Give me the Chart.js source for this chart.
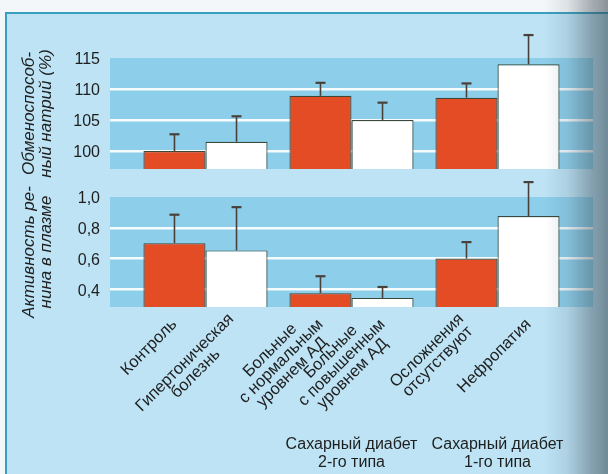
<!DOCTYPE html>
<html><head><meta charset="utf-8">
<script src="https://cdn.jsdelivr.net/npm/chart.js@4.4.0/dist/chart.umd.min.js"></script>
<style>
html,body{margin:0;padding:0;background:#f4f7f9;}
#wrap{position:relative;width:608px;height:474px;overflow:hidden;background:#f4f7f9;}
#panel{position:absolute;left:5px;top:12px;right:0;bottom:0;background:#bde3f5;border-left:2px solid #3a9fbf;border-top:2px solid #3a9fbf;}
canvas{position:absolute;left:0;top:0;}
#shade{position:absolute;left:545px;top:0;width:63px;height:474px;background:linear-gradient(to right, rgba(60,80,90,0) 0%, rgba(60,80,90,0.12) 35%, rgba(55,70,80,0.42) 75%, rgba(50,65,75,0.55) 100%);}
</style></head>
<body><div id="wrap"><div id="panel"></div>
<canvas id="c1" width="608" height="474"></canvas>
<canvas id="c2" width="608" height="474"></canvas>
<div id="shade"></div></div>
<script>
// ---- data ----
const RED_LABELS = [["Контроль"], ["Больные", "с нормальным", "уровнем АД"], ["Осложнения", "отсутствуют"]];
const WHITE_LABELS = [["Гипертоническая", "болезнь"], ["Больные", "с повышенным", "уровнем АД"], ["Нефропатия"]];
const GROUP_CAPTIONS = [[], ["Сахарный диабет", "2-го типа"], ["Сахарный диабет", "1-го типа"]];
const GROUP_INDEX = [0, 1, 2];

const SODIUM_RED = [100.0, 108.9, 108.6];
const SODIUM_RED_ERR = [102.7, 111.0, 110.9];
const SODIUM_WHITE = [101.5, 105.0, 114.0];
const SODIUM_WHITE_ERR = [105.6, 107.8, 118.7];

const RENIN_RED = [0.70, 0.375, 0.60];
const RENIN_RED_ERR = [0.885, 0.485, 0.707];
const RENIN_WHITE = [0.653, 0.344, 0.876];
const RENIN_WHITE_ERR = [0.934, 0.415, 1.097];

const SODIUM_TICKS = [100, 105, 110, 115];
const RENIN_TICKS = [0.4, 0.6, 0.8, 1.0];
const SODIUM_TITLE = ["Обменоспособ-", "ный натрий (%)"];
const RENIN_TITLE = ["Активность ре-", "нина в плазме"];

// ---- style ----
const RED = '#e34c25';
const WHITE = '#ffffff';
const EDGE = '#3c4838';
const ERR = '#4a403a';
const BAND = '#8dcfeb';
const TEXT = '#1e1e1e';
const FONT = '"Liberation Sans", Arial, sans-serif';

const bandPlugin = {
  id: 'band',
  beforeDraw(chart) {
    const a = chart.chartArea, c = chart.ctx;
    c.save(); c.fillStyle = BAND; c.fillRect(a.left, a.top, a.right - a.left, a.bottom - a.top); c.restore();
  }
};
const errPlugin = {
  id: 'errs',
  afterDatasetsDraw(chart) {
    const c = chart.ctx, ys = chart.scales.y;
    chart.data.datasets.forEach((ds, di) => {
      chart.getDatasetMeta(di).data.forEach((bar, i) => {
        const top = ys.getPixelForValue(ds.errTop[i]);
        c.save(); c.strokeStyle = ERR; c.lineWidth = 1.6;
        c.beginPath(); c.moveTo(bar.x, bar.y); c.lineTo(bar.x, top); c.stroke();
        c.lineWidth = 2.2;
        c.beginPath(); c.moveTo(bar.x - 5, top); c.lineTo(bar.x + 5, top); c.stroke();
        c.restore();
      });
    });
  }
};
const labelPlugin = {
  id: 'xlabels',
  afterDraw(chart) {
    const c = chart.ctx, bottom = chart.chartArea.bottom;
    c.save(); c.font = '16.5px ' + FONT; c.fillStyle = TEXT;
    [RED_LABELS, WHITE_LABELS].forEach((labels, di) => {
      chart.getDatasetMeta(di).data.forEach((bar, i) => {
        const lines = labels[i], lh = 15.5;
        const w = Math.max(...lines.map(l => c.measureText(l).width));
        c.save(); c.translate(bar.x, bottom + 15); c.rotate(-Math.PI / 4);
        c.textAlign = 'center'; c.textBaseline = 'middle';
        lines.forEach((l, k) => c.fillText(l, -w / 2, (k - (lines.length - 1) / 2) * lh));
        c.restore();
      });
    });
    c.font = '16px ' + FONT;
    c.textAlign = 'center'; c.textBaseline = 'middle';
    const xs = chart.scales.x;
    GROUP_CAPTIONS.forEach((lines, i) => {
      const cx = xs.getPixelForValue(i);
      lines.forEach((l, k) => c.fillText(l, cx, bottom + 138 + k * 18));
    });
    c.restore();
  }
};

function makeChart(id, red, redErr, white, whiteErr, ticks, title, fmt, yMin, yMax, padTop, padBottom, extra) {
  const plugins = [bandPlugin, errPlugin].concat(extra || []);
  return new Chart(document.getElementById(id), {
    type: 'bar',
    data: {
      datasets: [
        { data: red.map((v, i) => ({ x: GROUP_INDEX[i], y: v })), errTop: redErr, backgroundColor: RED, borderColor: EDGE, borderWidth: 1.2, borderSkipped: false, categoryPercentage: 0.85, barPercentage: 1 },
        { data: white.map((v, i) => ({ x: GROUP_INDEX[i], y: v })), errTop: whiteErr, backgroundColor: WHITE, borderColor: EDGE, borderWidth: 1.2, borderSkipped: false, categoryPercentage: 0.85, barPercentage: 1 }
      ]
    },
    options: {
      responsive: false, animation: false, devicePixelRatio: 1,
      layout: { padding: { left: 0, right: 15, top: padTop, bottom: padBottom } },
      plugins: { legend: { display: false }, tooltip: { enabled: false } },
      scales: {
        x: { type: 'linear', min: -0.654, max: 2.654, display: false, offset: false,
             afterBuildTicks: s => { s.ticks = GROUP_INDEX.map(v => ({ value: v })); } },
        y: {
          min: yMin, max: yMax,
          afterBuildTicks: s => { s.ticks = ticks.map(v => ({ value: v })); },
          afterFit: s => { s.width = 110; },
          border: { display: false },
          grid: { drawTicks: false, lineWidth: 2.5, color: c => (c.tick && c.tick.value >= yMax - 1e-9) ? 'rgba(0,0,0,0)' : 'rgba(255,255,255,0.92)' },
          ticks: { padding: 10, labelOffset: 2, color: TEXT, font: { size: 16, family: FONT }, callback: fmt },
          title: { display: true, text: title, color: TEXT, font: { size: 17, family: FONT, style: 'italic', lineHeight: 1.0 }, padding: { top: 21, bottom: 0 } }
        }
      }
    },
    plugins
  });
}

makeChart('c1', SODIUM_RED, SODIUM_RED_ERR, SODIUM_WHITE, SODIUM_WHITE_ERR, SODIUM_TICKS, SODIUM_TITLE,
  v => String(v), 97.1, 115, 58, 305);
makeChart('c2', RENIN_RED, RENIN_RED_ERR, RENIN_WHITE, RENIN_WHITE_ERR, RENIN_TICKS, RENIN_TITLE,
  v => v.toFixed(1).replace('.', ','), 0.285, 1.0, 197, 167, [labelPlugin]);
</script>
</body></html>
